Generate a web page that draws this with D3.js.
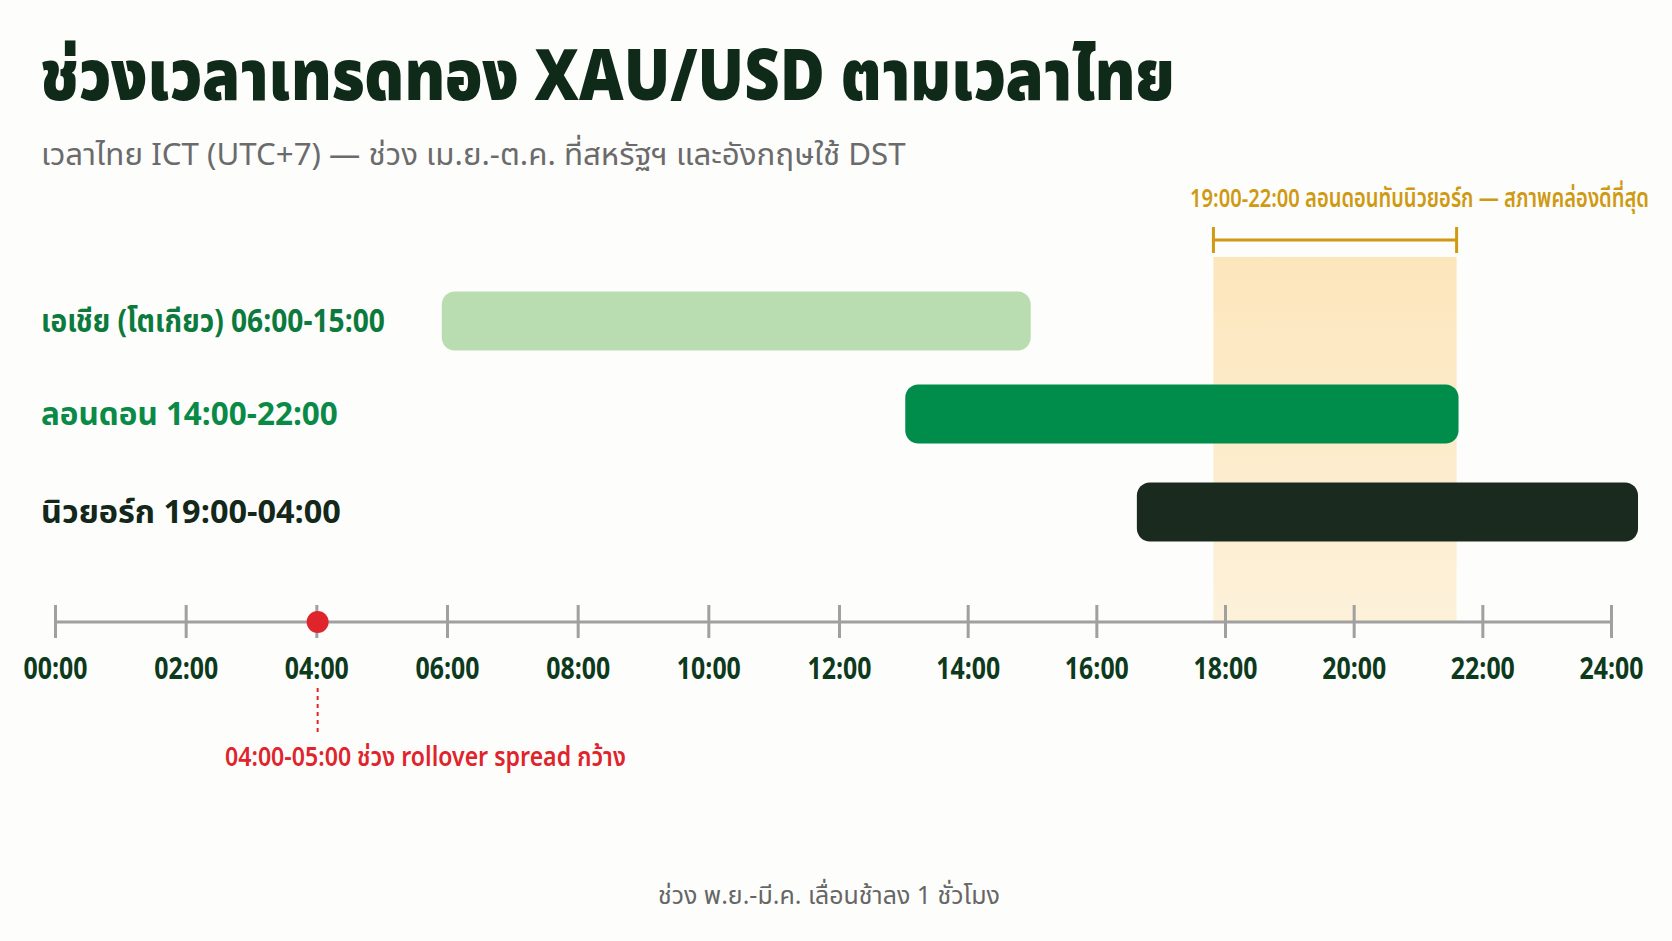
<!DOCTYPE html>
<html><head><meta charset="utf-8">
<script src="https://cdn.jsdelivr.net/npm/d3@7"></script>
<style>
html,body{margin:0;padding:0;background:#fdfdfc;}
svg{display:block;}
text{font-family:"Noto Sans Thai","Noto Sans","Open Sans",sans-serif;}
</style></head>
<body><svg id="c" width="1672" height="941"></svg>
<script>
// ---- data ----
const titleText = "ช่วงเวลาเทรดทอง XAU/USD ตามเวลาไทย";
const subtitleText = "เวลาไทย ICT (UTC+7) — ช่วง เม.ย.-ต.ค. ที่สหรัฐฯ และอังกฤษใช้ DST";
const sessions = ["เอเชีย (โตเกียว) 06:00-15:00", "ลอนดอน 14:00-22:00", "นิวยอร์ก 19:00-04:00"];
const sessionStart = [5.92, 13.03, 16.63];   // hours, as drawn
const sessionEnd = [14.98, 21.63, 24.42];
const overlapLabel = "19:00-22:00 ลอนดอนทับนิวยอร์ก — สภาพคล่องดีที่สุด";
const overlapStart = 17.82, overlapEnd = 21.6;
const rolloverHour = 4.02;
const rolloverLabel = "04:00-05:00 ช่วง rollover spread กว้าง";
const tickHours = [0, 2, 4, 6, 8, 10, 12, 14, 16, 18, 20, 22, 24];
const tickLabels = ["00:00","02:00","04:00","06:00","08:00","10:00","12:00","14:00","16:00","18:00","20:00","22:00","24:00"];
const footnote = "ช่วง พ.ย.-มี.ค. เลื่อนช้าลง 1 ชั่วโมง";

// ---- styles ----
const barColors = ["#b9ddb1", "#008c4b", "#1a2a1f"];
const labelColors = ["#0b7a3c", "#0a8a47", "#13271a"];
const gold = "#cf9a12";
const red = "#e0242b";

const svg = d3.select("#c");
const x = d3.scaleLinear().domain([0, 12, 24]).range([55, 839, 1611]);
const y = d3.scaleOrdinal().domain(sessions).range([321, 414, 512]);
const barH = 59;
const axisY = 622;

function fit(sel, w) {
  const n = sel.node();
  const len = n.getComputedTextLength();
  const ax = +sel.attr("x"), ay = +sel.attr("y");
  const s = w / len;
  sel.attr("transform", `translate(${ax},${ay}) scale(${s},1) translate(${-ax},${-ay})`);
}

const defs = svg.append("defs");
const g = defs.append("linearGradient").attr("id","band").attr("x1",0).attr("x2",0).attr("y1",0).attr("y2",1);
g.append("stop").attr("offset","0%").attr("stop-color","#fce6bc");
g.append("stop").attr("offset","100%").attr("stop-color","#fdf1da");

// title
svg.append("text").attr("x", 40).attr("y", 100).attr("font-size", 70).attr("font-weight", 900)
  .attr("fill", "#0f2a18").text(titleText).call(fit, 1135);
svg.append("text").attr("x", 41).attr("y", 165).attr("font-size", 30).attr("font-weight", 400)
  .attr("fill", "#6b6b6b").text(subtitleText).call(fit, 865);

// overlap band
svg.append("rect").attr("x", x(overlapStart)).attr("y", 257)
  .attr("width", x(overlapEnd) - x(overlapStart)).attr("height", axisY - 257)
  .attr("fill", "url(#band)");

// bracket
const br = svg.append("g").attr("stroke", gold).attr("stroke-width", 3);
br.append("line").attr("x1", x(overlapStart)).attr("x2", x(overlapEnd)).attr("y1", 240).attr("y2", 240);
br.append("line").attr("x1", x(overlapStart)).attr("x2", x(overlapStart)).attr("y1", 227).attr("y2", 253);
br.append("line").attr("x1", x(overlapEnd)).attr("x2", x(overlapEnd)).attr("y1", 227).attr("y2", 253);
svg.append("text").attr("x", 1190).attr("y", 207).attr("font-size", 26).attr("font-weight", 600)
  .attr("fill", gold).text(overlapLabel).call(fit, 459);

// bars
svg.selectAll("rect.bar").data(sessions).join("rect").attr("class","bar")
  .attr("x", (d,i) => x(sessionStart[i]))
  .attr("width", (d,i) => x(sessionEnd[i]) - x(sessionStart[i]))
  .attr("y", d => y(d) - barH/2).attr("height", barH)
  .attr("rx", 13).attr("fill", (d,i) => barColors[i]);

// labels
const labelW = [344, 297, 300];
svg.selectAll("text.lab").data(sessions).join("text").attr("class","lab")
  .attr("x", 41).attr("y", d => y(d) + 11)
  .attr("font-size", 32).attr("font-weight", 700)
  .attr("fill", (d,i) => labelColors[i]).text(d => d)
  .each(function(d,i){ fit(d3.select(this), labelW[i]); });

// axis
const axis = d3.axisBottom(x).tickValues(tickHours).tickFormat((d,i) => tickLabels[i]).tickSize(0);
const ag = svg.append("g").attr("transform", `translate(0,${axisY})`).call(axis);
ag.select(".domain").attr("stroke", "#a0a0a0").attr("stroke-width", 3).attr("d", `M${x(0)},0H${x(24)}`);
ag.selectAll(".tick line").attr("y1", -17).attr("y2", 16).attr("stroke", "#a0a0a0").attr("stroke-width", 3);
ag.selectAll(".tick text").attr("y", 57).attr("dy", null).attr("font-size", 30).attr("font-weight", 700)
  .attr("fill", "#0d3a1d").attr("font-family", null)
  .each(function(){
    const t = d3.select(this);
    const len = this.getComputedTextLength();
    const s = 64 / len;
    t.attr("transform", `scale(${s},1)`);
  });

// rollover
svg.append("line").attr("x1", x(rolloverHour)).attr("x2", x(rolloverHour)).attr("y1", 688).attr("y2", 734)
  .attr("stroke", red).attr("stroke-width", 2).attr("stroke-dasharray", "4,4");
svg.append("circle").attr("cx", x(rolloverHour)).attr("cy", axisY).attr("r", 11).attr("fill", red);
svg.append("text").attr("x", 225).attr("y", 766).attr("font-size", 27).attr("font-weight", 600)
  .attr("fill", red).text(rolloverLabel).call(fit, 401);

// footnote
svg.append("text").attr("x", 658).attr("y", 904).attr("font-size", 25).attr("font-weight", 400)
  .attr("fill", "#666").text(footnote).call(fit, 342);
</script></body></html>
